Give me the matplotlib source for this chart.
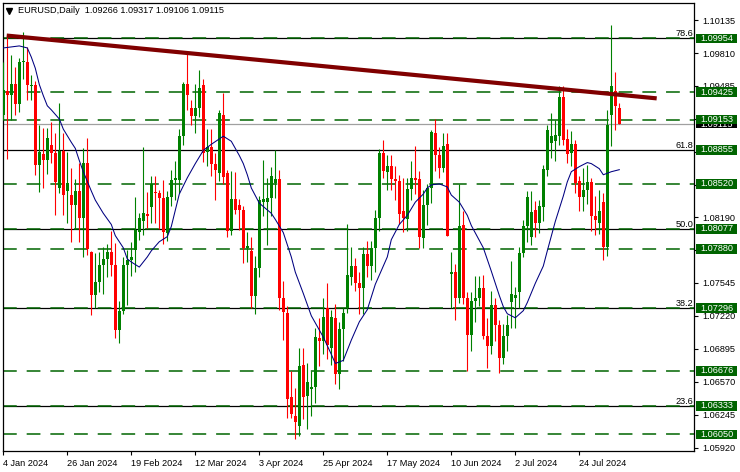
import matplotlib
matplotlib.use("Agg")
import matplotlib.pyplot as plt
import matplotlib.transforms as mtransforms
from matplotlib.patches import Rectangle
import numpy as np

plt.rcParams["font.family"] = ["Liberation Sans", "DejaVu Sans"]

# daily candles, 4 Jan 2024 .. 7 Aug 2024
opens = [
    1.0920, 1.0944, 1.0940, 1.0950, 1.0931, 1.0972, 1.0972, 1.0948, 1.0949, 1.0871,
    1.0881, 1.0876, 1.0890, 1.0882, 1.0848, 1.0884, 1.0845, 1.0841, 1.0831, 1.0845,
    1.0818, 1.0873, 1.0785, 1.0742, 1.0755, 1.0772, 1.0778, 1.0785, 1.0772, 1.0708,
    1.0727, 1.0772, 1.0777, 1.0787, 1.0805, 1.0815, 1.0822, 1.0829, 1.0844, 1.0843,
    1.0838, 1.0804, 1.0839, 1.0856, 1.0856, 1.0899, 1.0950, 1.0927, 1.0919, 1.0927,
    1.0949, 1.0883, 1.0888, 1.0872, 1.0863, 1.0920, 1.0863, 1.0806, 1.0837, 1.0831,
    1.0826, 1.0789, 1.0786, 1.0741, 1.0769, 1.0834, 1.0834, 1.0838, 1.0853, 1.0857,
    1.0740, 1.0725, 1.0642, 1.0623, 1.0613, 1.0673, 1.0643, 1.0650, 1.0652, 1.0700,
    1.0697, 1.0730, 1.0690, 1.0720, 1.0665, 1.0709, 1.0730, 1.0760, 1.0771, 1.0754,
    1.0749, 1.0783, 1.0771, 1.0789, 1.0818, 1.0882, 1.0864, 1.0870, 1.0857, 1.0855,
    1.0825, 1.0817, 1.0847, 1.0858, 1.0857, 1.0799, 1.0831, 1.0848, 1.0902, 1.0880,
    1.0868, 1.0891, 1.0763, 1.0765, 1.0740, 1.0811, 1.0740, 1.0703, 1.0737, 1.0740,
    1.0749, 1.0702, 1.0692, 1.0733, 1.0713, 1.0680, 1.0702, 1.0736, 1.0740, 1.0745,
    1.0784, 1.0810, 1.0800, 1.0826, 1.0813, 1.0829, 1.0866, 1.0892, 1.0894, 1.0899,
    1.0938, 1.0896, 1.0882, 1.0891, 1.0855, 1.0839, 1.0846, 1.0854, 1.0820, 1.0813,
    1.0834, 1.0790, 1.0920, 1.0944, 1.09266,
]
highs = [
    1.0972, 1.0998, 1.0979, 1.0967, 1.0976, 1.1002, 1.0987, 1.0959, 1.0953, 1.0910,
    1.0907, 1.0907, 1.0913, 1.0902, 1.0932, 1.0902, 1.0883, 1.0868, 1.0857, 1.0873,
    1.0887, 1.0897, 1.0786, 1.0784, 1.0785, 1.0790, 1.0793, 1.0806, 1.0794, 1.0737,
    1.0780, 1.0787, 1.0795, 1.0839, 1.0823, 1.0888, 1.0844, 1.0860, 1.0860, 1.0846,
    1.0856, 1.0845, 1.0866, 1.0875, 1.0906, 1.0952, 1.0981, 1.0935, 1.0950, 1.0964,
    1.0955, 1.0906, 1.0906, 1.0882, 1.0925, 1.0942, 1.0866, 1.0865, 1.0864, 1.0837,
    1.0830, 1.0805, 1.0800, 1.0781, 1.0840, 1.0876, 1.0858, 1.0869, 1.0885, 1.0866,
    1.0756, 1.0732, 1.0668, 1.0651, 1.0690, 1.0690, 1.0675, 1.0668, 1.0710, 1.0720,
    1.0740, 1.0754, 1.0728, 1.0734, 1.0716, 1.0730, 1.0812, 1.0790, 1.0779, 1.0765,
    1.0790, 1.0796, 1.0796, 1.0826, 1.0886, 1.0895, 1.0880, 1.0880, 1.0870, 1.0861,
    1.0858, 1.0858, 1.0875, 1.0889, 1.0865, 1.0846, 1.0852, 1.0905, 1.0916, 1.0888,
    1.0902, 1.0902, 1.0785, 1.0773, 1.0852, 1.0825, 1.0745, 1.0745, 1.0761, 1.0761,
    1.0762, 1.0720, 1.0746, 1.0740, 1.0718, 1.0714, 1.0723, 1.0776, 1.0750, 1.0790,
    1.0816, 1.0845, 1.0845, 1.0835, 1.0836, 1.0871, 1.0910, 1.0922, 1.0915, 1.0948,
    1.0948, 1.0906, 1.0904, 1.0895, 1.0860, 1.0868, 1.0871, 1.0858, 1.0840, 1.0846,
    1.0843, 1.0925, 1.1009, 1.0962, 1.09317,
]
lows = [
    1.0915, 1.0877, 1.0915, 1.0920, 1.0923, 1.0955, 1.0935, 1.0935, 1.0861, 1.0844,
    1.0848, 1.0862, 1.0873, 1.0821, 1.0843, 1.0821, 1.0813, 1.0795, 1.0808, 1.0795,
    1.0780, 1.0782, 1.0723, 1.0730, 1.0745, 1.0743, 1.0760, 1.0761, 1.0700, 1.0695,
    1.0724, 1.0733, 1.0761, 1.0765, 1.0797, 1.0802, 1.0809, 1.0813, 1.0813, 1.0808,
    1.0793, 1.0796, 1.0830, 1.0836, 1.0843, 1.0890, 1.0925, 1.0910, 1.0902, 1.0918,
    1.0874, 1.0870, 1.0860, 1.0836, 1.0855, 1.0852, 1.0800, 1.0802, 1.0822, 1.0807,
    1.0774, 1.0775, 1.0730, 1.0724, 1.0760, 1.0820, 1.0792, 1.0820, 1.0838, 1.0728,
    1.0698, 1.0621, 1.0621, 1.0601, 1.0603, 1.0620, 1.0610, 1.0623, 1.0636, 1.0672,
    1.0684, 1.0679, 1.0673, 1.0655, 1.0650, 1.0677, 1.0725, 1.0752, 1.0746, 1.0724,
    1.0724, 1.0760, 1.0757, 1.0765, 1.0806, 1.0858, 1.0846, 1.0846, 1.0836, 1.0812,
    1.0805, 1.0806, 1.0836, 1.0842, 1.0789, 1.0789, 1.0811, 1.0833, 1.0865, 1.0858,
    1.0864, 1.0801, 1.0730, 1.0718, 1.0735, 1.0734, 1.0668, 1.0687, 1.0716, 1.0732,
    1.0699, 1.0671, 1.0684, 1.0697, 1.0666, 1.0674, 1.0687, 1.0710, 1.0710, 1.0730,
    1.0780, 1.0795, 1.0792, 1.0800, 1.0804, 1.0815, 1.0860, 1.0878, 1.0875, 1.0890,
    1.0890, 1.0873, 1.0870, 1.0843, 1.0825, 1.0825, 1.0832, 1.0806, 1.0802, 1.0803,
    1.0777, 1.0781, 1.0889, 1.0905, 1.09106,
]
closes = [
    1.0945, 1.0940, 1.0950, 1.0931, 1.0972, 1.0973, 1.0949, 1.0949, 1.0871, 1.0883,
    1.0876, 1.0897, 1.0882, 1.0854, 1.0884, 1.0841, 1.0853, 1.0831, 1.0845, 1.0818,
    1.0873, 1.0788, 1.0742, 1.0755, 1.0772, 1.0778, 1.0785, 1.0772, 1.0708, 1.0727,
    1.0772, 1.0777, 1.0780, 1.0807, 1.0818, 1.0823, 1.0820, 1.0852, 1.0843, 1.0838,
    1.0805, 1.0839, 1.0856, 1.0858, 1.0899, 1.0950, 1.0940, 1.0919, 1.0927, 1.0947,
    1.0882, 1.0888, 1.0872, 1.0866, 1.0922, 1.0859, 1.0806, 1.0837, 1.0826, 1.0826,
    1.0789, 1.0791, 1.0741, 1.0769, 1.0836, 1.0837, 1.0838, 1.0860, 1.0857, 1.0740,
    1.0726, 1.0640, 1.0625, 1.0617, 1.0672, 1.0642, 1.0657, 1.0652, 1.0701, 1.0697,
    1.0721, 1.0693, 1.0721, 1.0665, 1.0709, 1.0725, 1.0762, 1.0771, 1.0754, 1.0749,
    1.0783, 1.0771, 1.0789, 1.0818, 1.0882, 1.0865, 1.0870, 1.0857, 1.0855, 1.0822,
    1.0818, 1.0847, 1.0858, 1.0856, 1.0800, 1.0831, 1.0848, 1.0903, 1.0880, 1.0868,
    1.0889, 1.0801, 1.0765, 1.0740, 1.0810, 1.0740, 1.0703, 1.0737, 1.0740, 1.0749,
    1.0702, 1.0692, 1.0733, 1.0713, 1.0680, 1.0702, 1.0713, 1.0743, 1.0742, 1.0784,
    1.0810, 1.0839, 1.0824, 1.0813, 1.0830, 1.0867, 1.0905, 1.0899, 1.0900, 1.0938,
    1.0895, 1.0881, 1.0891, 1.0853, 1.0839, 1.0846, 1.0854, 1.0820, 1.0816, 1.0825,
    1.0790, 1.0910, 1.0948, 1.0929, 1.09115,
]

# moving average
ma_bars = [0, 4, 6, 7, 8, 9, 10, 11, 12, 14, 15, 17, 18, 19, 20, 22, 23, 25, 27, 28,
           30, 31, 32, 34, 36, 37, 39, 41, 42, 44, 46, 48, 50, 52, 55, 57, 59, 60, 61, 62,
           64, 67, 68, 70, 72, 73, 75, 77, 80, 82, 83, 85, 87, 89, 91, 93, 96, 97, 99, 101,
           103, 105, 106, 107, 109, 111, 112, 114, 116, 117, 120, 122, 124, 125, 126, 128, 130, 131, 133, 135,
           136, 138, 140, 141, 142, 144, 146, 147, 149, 150, 152, 154]
ma_vals = [1.0986, 1.0988, 1.0986, 1.0977, 1.0966, 1.0950, 1.0939, 1.0929, 1.0925, 1.0916,
           1.0906, 1.0893, 1.0887, 1.0875, 1.0864, 1.0845, 1.0836, 1.0823, 1.0812, 1.0801,
           1.0789, 1.0778, 1.0775, 1.0770, 1.0780, 1.0786, 1.0795, 1.0800, 1.0810, 1.0842,
           1.0858, 1.0872, 1.0885, 1.0891, 1.0899, 1.0894, 1.0880, 1.0872, 1.0861, 1.0848,
           1.0833, 1.0823, 1.0817, 1.0804, 1.0780, 1.0765, 1.0744, 1.0722, 1.0701, 1.0684,
           1.0675, 1.0678, 1.0698, 1.0716, 1.0728, 1.0753, 1.0780, 1.0797, 1.0812, 1.0821,
           1.0834, 1.0842, 1.0848, 1.0851, 1.0852, 1.0849, 1.0841, 1.0834, 1.0821, 1.0811,
           1.0789, 1.0766, 1.0742, 1.0731, 1.0724, 1.0720, 1.0727, 1.0735, 1.0754, 1.0771,
           1.0786, 1.0815, 1.0840, 1.0854, 1.0864, 1.0869, 1.0873, 1.0872, 1.0867, 1.0861,
           1.0864, 1.0866]

trend_bars = [0.85, 163.35]
trend_vals = [1.09982, 1.09363]

fib_levels = [1.09954, 1.08855, 1.08077, 1.07296, 1.06333]
fib_names = ["78.6", "61.8", "50.0", "38.2", "23.6"]
dash_levels = [1.09954, 1.09425, 1.09153, 1.08520, 1.08077, 1.07880, 1.07296, 1.06676, 1.06333, 1.06050]
box_levels = [1.09954, 1.09425, 1.09153, 1.08855, 1.08520, 1.08077, 1.07880, 1.07296, 1.06676, 1.06333, 1.06050]
bid = 1.09115

price_ticks = [1.10135, 1.09810, 1.09485, 1.09160, 1.08835, 1.08510, 1.08190, 1.07865,
               1.07545, 1.07220, 1.06895, 1.06570, 1.06245, 1.05920]
# labels hidden behind the level boxes are left empty
price_labels = ["1.10135", "1.09810", "1.09485", "", "", "", "1.08190", "",
                "1.07545", "1.07220", "1.06895", "1.06570", "1.06245", "1.05920"]
date_ticks = [0, 16, 32, 48, 64, 80, 96, 112, 128, 144]
date_labels = ["4 Jan 2024", "26 Jan 2024", "19 Feb 2024", "12 Mar 2024", "3 Apr 2024",
               "25 Apr 2024", "17 May 2024", "10 Jun 2024", "2 Jul 2024", "24 Jul 2024"]

GREEN = "#008000"
RED = "#ff0000"
LVL = "#006400"
FS = 6.6

fig = plt.figure(figsize=(7.4, 4.72), dpi=100)
ax = fig.add_axes([2.5 / 740, 21 / 472, 691.5 / 740, 448.3 / 472])
ax.set_xlim(-0.2, 172.675)
ax.set_ylim(1.05887, 1.10306)

x = np.arange(len(opens))
o = np.array(opens)
h = np.array(highs)
l = np.array(lows)
c = np.array(closes)
cols = np.where(c >= o, GREEN, RED)

# levels
for lv in fib_levels:
    ax.axhline(lv, color="black", lw=0.9, zorder=1)
for lv in dash_levels:
    ax.axhline(lv, color=LVL, lw=1.1, ls=(0, (9, 6.5)), zorder=1.2)
ax.axhline(bid, color="#a0a0a0", lw=0.9, zorder=1.1)

# candles
ax.vlines(x, l, h, colors=cols, lw=0.8, zorder=3)
body = np.maximum(np.abs(c - o), 0.00007)
ax.bar(x, body, bottom=np.minimum(o, c), width=0.75, color=cols, linewidth=0, zorder=4)

ax.plot(ma_bars, ma_vals, color="#000080", lw=0.75, zorder=5)
ax.plot(trend_bars, trend_vals, color="#800000", lw=3.0, solid_capstyle="butt", zorder=6)

tr = mtransforms.blended_transform_factory(ax.transAxes, ax.transData)
for lv, nm in zip(fib_levels, fib_names):
    ax.text(0.9986, lv, nm, transform=tr, ha="right", va="bottom", fontsize=FS, zorder=7)

# price axis
ax.yaxis.tick_right()
ax.set_yticks(price_ticks)
ax.set_yticklabels(price_labels)
ax.tick_params(axis="y", direction="out", length=3, width=0.8, pad=3, labelsize=FS)
ax.set_xticks(date_ticks)
ax.set_xticklabels(date_labels)
for t in ax.get_xticklabels():
    t.set_ha("left")
ax.tick_params(axis="x", direction="out", length=3, width=0.8, pad=3, labelsize=FS)
for sp in ax.spines.values():
    sp.set_linewidth(0.9)

# price label boxes
hh = 0.00047
bx0, bw = 1.0029, 0.06
ax.add_patch(Rectangle((bx0, bid - hh), bw, 2 * hh, transform=tr, fc="black", ec="none",
                       clip_on=False, zorder=8))
ax.text(bx0 + 0.006, bid - 0.00012, "%.5f" % bid, transform=tr, color="white", ha="left",
        va="center", fontsize=FS, clip_on=False, zorder=8.5)
for lv in box_levels:
    ax.add_patch(Rectangle((bx0, lv - hh), bw, 2 * hh, transform=tr, fc=LVL, ec="none",
                           clip_on=False, zorder=9))
    ax.text(bx0 + 0.006, lv, "%.5f" % lv, transform=tr, color="white", ha="left", va="center",
            fontsize=FS, clip_on=False, zorder=9.5)

# header
ax.plot([0.0095], [0.9815], marker="v", color="black", markersize=4.5, transform=ax.transAxes,
        zorder=10, clip_on=False)
ax.text(0.0224, 0.9815, "EURUSD,Daily  1.09266 1.09317 1.09106 1.09115", transform=ax.transAxes,
        ha="left", va="center", fontsize=FS, zorder=10)

fig.savefig("out.png", dpi=100)
